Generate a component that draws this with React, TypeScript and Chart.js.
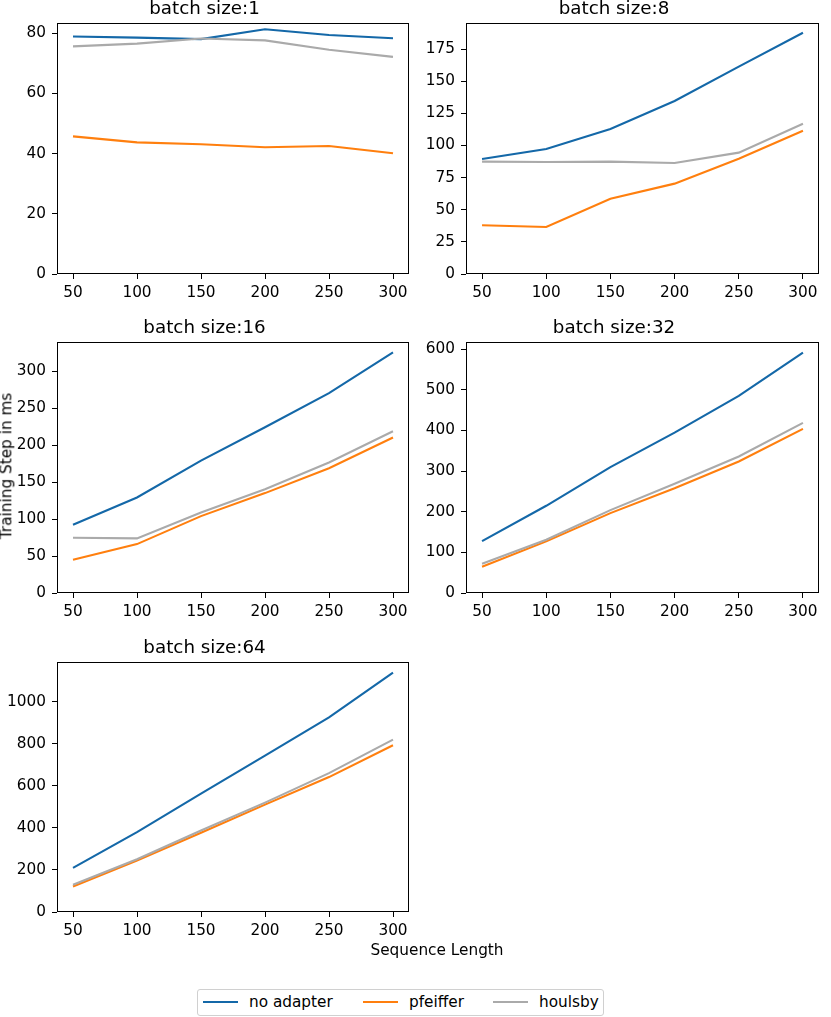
import React, { useEffect, useRef } from "react";
import { Chart, registerables } from "chart.js";

Chart.register(...registerables);

// ---------------- DATA ----------------
const seqLengths = [50, 100, 150, 200, 250, 300];
const seriesNames = ["no adapter", "pfeiffer", "houlsby"];
const seriesColors = ["#1468a8", "#ff7f0e", "#aaaaaa"];

const bs1NoAdapter = [78.9, 78.5, 78.0, 81.3, 79.4, 78.3];
const bs1Pfeiffer = [45.7, 43.7, 43.1, 42.1, 42.5, 40.1];
const bs1Houlsby = [75.6, 76.5, 78.2, 77.6, 74.5, 72.1];

const bs8NoAdapter = [89.4, 97.2, 112.8, 134.6, 161.3, 187.7];
const bs8Pfeiffer = [37.9, 36.6, 58.6, 70.3, 89.7, 111.5];
const bs8Houlsby = [87.4, 87.1, 87.4, 86.3, 94.4, 116.9];

const bs16NoAdapter = [92.2, 129.1, 179.0, 224.0, 270.0, 325.2];
const bs16Pfeiffer = [45.0, 66.1, 103.9, 135.0, 168.7, 210.1];
const bs16Houlsby = [74.7, 73.8, 108.9, 140.3, 176.3, 218.6];

const bs32NoAdapter = [127.7, 214.5, 309.4, 394.5, 484.6, 591.0];
const bs32Pfeiffer = [64.7, 126.9, 196.4, 257.8, 323.3, 403.5];
const bs32Houlsby = [72.0, 131.0, 203.8, 268.5, 335.6, 418.3];

const bs64NoAdapter = [209.8, 380.0, 563.0, 744.5, 926.0, 1138.8];
const bs64Pfeiffer = [121.5, 244.5, 377.0, 511.0, 642.0, 793.4];
const bs64Houlsby = [129.3, 250.8, 388.0, 520.5, 661.0, 820.2];

const panelTitles = ["batch size:1", "batch size:8", "batch size:16", "batch size:32", "batch size:64"];

const xTicks = [50, 100, 150, 200, 250, 300];
const yTicks1 = [0, 20, 40, 60, 80];
const yTicks8 = [0, 25, 50, 75, 100, 125, 150, 175];
const yTicks16 = [0, 50, 100, 150, 200, 250, 300];
const yTicks32 = [0, 100, 200, 300, 400, 500, 600];
const yTicks64 = [0, 200, 400, 600, 800, 1000];

const yLabel = "Training Step in ms";
const xLabel = "Sequence Length";

// ---------------- LAYOUT ----------------
const FONT = "'DejaVu Sans', 'Liberation Sans', sans-serif";
const TICK_SIZE = 15.3;
const TITLE_SIZE = 18.3;
const Y_AXIS_W = 57;
const X_AXIS_H = 32;
const TITLE_H = 25;
const RIGHT_PAD = 10;

const panelGeom = [
  { left: 57, top: 23, w: 352, h: 251 },
  { left: 466, top: 23, w: 353, h: 251 },
  { left: 57, top: 342, w: 352, h: 251 },
  { left: 466, top: 342, w: 353, h: 251 },
  { left: 57, top: 662, w: 352, h: 250 },
];

const panelSeries = [
  [bs1NoAdapter, bs1Pfeiffer, bs1Houlsby],
  [bs8NoAdapter, bs8Pfeiffer, bs8Houlsby],
  [bs16NoAdapter, bs16Pfeiffer, bs16Houlsby],
  [bs32NoAdapter, bs32Pfeiffer, bs32Houlsby],
  [bs64NoAdapter, bs64Pfeiffer, bs64Houlsby],
];
const panelYTicks = [yTicks1, yTicks8, yTicks16, yTicks32, yTicks64];

const spinePlugin = {
  id: "spines",
  afterDraw(chart: any) {
    const { ctx, chartArea: a } = chart;
    ctx.save();
    ctx.strokeStyle = "#000";
    ctx.lineWidth = 1;
    const l = Math.round(a.left) + 0.5;
    const t = Math.round(a.top) + 0.5;
    const r = Math.round(a.right) - 0.5;
    const b = Math.round(a.bottom) - 0.5;
    ctx.strokeRect(l, t, r - l, b - t);
    ctx.restore();
  },
};

function Panel({ idx }: { idx: number }) {
  const ref = useRef<HTMLCanvasElement | null>(null);
  const g = panelGeom[idx];
  const cw = Y_AXIS_W + g.w + RIGHT_PAD;
  const ch = TITLE_H + g.h + X_AXIS_H;

  useEffect(() => {
    if (!ref.current) return;
    const series = panelSeries[idx];
    const all = series.flat();
    const dMax = Math.max(...all);
    const dMin = Math.min(...all);
    const yMax = dMax + 0.05 * (dMax - dMin);
    const yTicks = panelYTicks[idx];
    const tickFont = { family: FONT, size: TICK_SIZE };
    const gridOpts = {
      display: true,
      drawOnChartArea: false,
      drawTicks: true,
      tickLength: 5,
      tickColor: "#000",
      tickWidth: 1,
    };
    const chart = new Chart(ref.current, {
      type: "line",
      data: {
        datasets: series.map((vals, i) => ({
          label: seriesNames[i],
          data: seqLengths.map((x, j) => ({ x, y: vals[j] })),
          borderColor: seriesColors[i],
          backgroundColor: seriesColors[i],
          borderWidth: 2.1,
          pointRadius: 0,
          tension: 0,
          fill: false,
          order: 3 - i,
        })),
      },
      options: {
        responsive: false,
        animation: false,
        devicePixelRatio: 1,
        layout: { padding: { left: 0, right: RIGHT_PAD, top: 0, bottom: 0 } },
        plugins: {
          legend: { display: false },
          tooltip: { enabled: false },
          title: {
            display: true,
            text: panelTitles[idx],
            color: "#000",
            font: { family: FONT, size: TITLE_SIZE, weight: "normal", lineHeight: 1.2 },
            padding: { top: 0, bottom: TITLE_H - TITLE_SIZE * 1.2 },
          },
        },
        scales: {
          x: {
            type: "linear",
            min: 37.5,
            max: 312.5,
            afterBuildTicks: (s: any) => {
              s.ticks = xTicks.map((v) => ({ value: v }));
            },
            afterFit: (s: any) => {
              s.height = X_AXIS_H;
            },
            grid: gridOpts,
            border: { display: false },
            ticks: {
              color: "#000",
              font: tickFont,
              padding: 5,
              maxRotation: 0,
              autoSkip: false,
              callback: (v: any) => String(v),
            },
          },
          y: {
            type: "linear",
            min: 0,
            max: yMax,
            afterBuildTicks: (s: any) => {
              s.ticks = yTicks.map((v) => ({ value: v }));
            },
            afterFit: (s: any) => {
              s.width = Y_AXIS_W;
            },
            grid: gridOpts,
            border: { display: false },
            ticks: {
              color: "#000",
              font: tickFont,
              padding: 6,
              autoSkip: false,
              callback: (v: any) => String(v),
            },
          },
        },
      } as any,
      plugins: [spinePlugin],
    });
    return () => chart.destroy();
  }, [idx]);

  return (
    <canvas
      ref={ref}
      width={cw}
      height={ch}
      style={{
        position: "absolute",
        left: g.left - Y_AXIS_W,
        top: g.top - TITLE_H,
        width: cw,
        height: ch,
      }}
    />
  );
}

const legendItems = [
  { lineLeft: 5, textLeft: 51 },
  { lineLeft: 165, textLeft: 211 },
  { lineLeft: 295, textLeft: 341 },
];

export default function App() {
  const textStyle: React.CSSProperties = {
    fontFamily: FONT,
    fontSize: TICK_SIZE,
    color: "#000",
    whiteSpace: "nowrap",
    lineHeight: 1,
  };
  return (
    <div
      style={{
        position: "absolute",
        left: 0,
        top: 0,
        width: 831,
        height: 1017,
        background: "#fff",
        overflow: "hidden",
      }}
    >
      {panelGeom.map((_, i) => (
        <Panel key={i} idx={i} />
      ))}
      {/* y-axis label */}
      <div style={{ position: "absolute", left: 7, top: 466, width: 0, height: 0 }}>
        <div
          style={{
            ...textStyle,
            position: "absolute",
            left: 0,
            top: 0,
            transform: "translate(-50%, -50%) rotate(-90deg)",
          }}
        >
          {yLabel}
        </div>
      </div>
      {/* x-axis label */}
      <div style={{ position: "absolute", left: 437, top: 951, width: 0, height: 0 }}>
        <div
          style={{
            ...textStyle,
            position: "absolute",
            left: 0,
            top: 0,
            transform: "translate(-50%, -50%)",
          }}
        >
          {xLabel}
        </div>
      </div>
      {/* legend */}
      <div
        style={{
          position: "absolute",
          left: 197,
          top: 989,
          width: 405,
          height: 25,
          border: "1px solid #d0d0d0",
          borderRadius: 3,
          background: "#fff",
        }}
      >
        {legendItems.map((it, i) => (
          <React.Fragment key={i}>
            <div
              style={{
                position: "absolute",
                left: it.lineLeft,
                top: 11,
                width: 35,
                height: 2,
                background: seriesColors[i],
              }}
            />
            <div
              style={{
                ...textStyle,
                position: "absolute",
                left: it.textLeft,
                top: 5,
              }}
            >
              {seriesNames[i]}
            </div>
          </React.Fragment>
        ))}
      </div>
    </div>
  );
}
